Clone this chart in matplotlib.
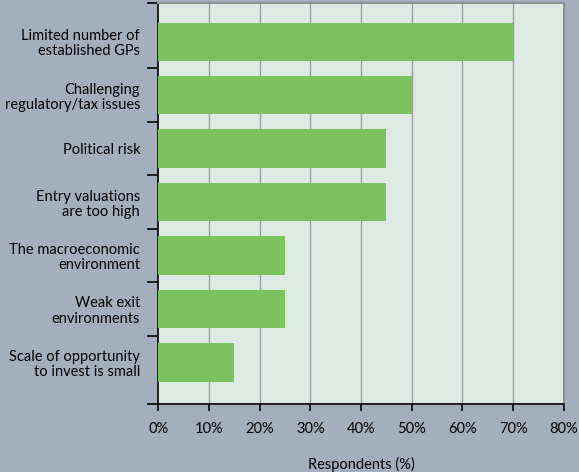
import matplotlib
matplotlib.use('Agg')
import matplotlib.pyplot as plt
import numpy as np

plt.rcParams['font.family'] = ['Lato', 'DejaVu Sans']

categories = ['Limited number of\nestablished GPs',
              'Challenging\nregulatory/tax issues',
              'Political risk',
              'Entry valuations\nare too high',
              'The macroeconomic\nenvironment',
              'Weak exit\nenvironments',
              'Scale of opportunity\nto invest is small']
respondents = [70, 50, 45, 45, 25, 25, 15]
xticks = [0, 10, 20, 30, 40, 50, 60, 70, 80]

fig_bg = '#a3afbd'
plot_bg = '#dde9e3'
bar_col = '#7cc35e'
fs = 10.5

fig = plt.figure(figsize=(5.79, 4.72), dpi=100, facecolor=fig_bg)
ax = fig.add_axes([0.273, 0.144, 0.701, 0.849])
ax.set_facecolor(plot_bg)

n = len(categories)
pos = np.arange(n)
ax.barh(pos, respondents, height=0.72, color=bar_col, zorder=3)
y_top, y_bot = -0.72, n - 1 + 0.78
ax.set_ylim(y_bot, y_top)
ax.set_xlim(0, 80)

# vertical grid
for x in xticks[1:-1]:
    ax.axvline(x, color='#9a9fa0', lw=1.0, zorder=1)

for s in ['top', 'right']:
    ax.spines[s].set_color('#8a9296')
    ax.spines[s].set_linewidth(1.5)
for s in ['left', 'bottom']:
    ax.spines[s].set_color('#111111')
    ax.spines[s].set_linewidth(1.3)

ax.set_xticks(xticks)
ax.set_xticklabels([f'{v}%' for v in xticks], fontsize=fs)
ax.tick_params(axis='x', length=5, width=1.3, color='#111111', pad=8)

# category ticks at band boundaries, labels centred on bars
bounds = [y_top] + list(np.arange(n - 1) + 0.5) + [y_bot]
ax.set_yticks(bounds)
ax.set_yticklabels([])
ax.tick_params(axis='y', length=8, width=1.3, color='#111111')
ax.set_yticks(pos, minor=True)
ax.set_yticklabels(categories, minor=True, fontsize=fs, linespacing=1.1)
ax.tick_params(axis='y', which='minor', length=0, pad=13)

ax.set_xlabel('Respondents (%)', fontsize=fs, labelpad=15)

fig.savefig('out.png', dpi=100, facecolor=fig_bg)
